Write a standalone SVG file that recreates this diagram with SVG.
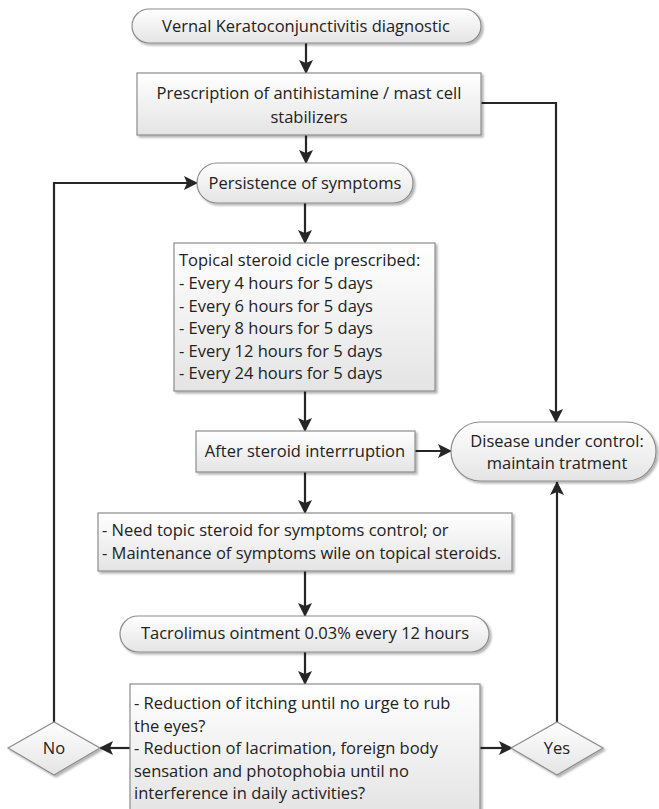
<svg xmlns="http://www.w3.org/2000/svg" width="659" height="809" viewBox="0 0 659 809">
<defs>
<linearGradient id="g" x1="0" y1="0" x2="0" y2="1">
<stop offset="0" stop-color="#ffffff"/>
<stop offset="1" stop-color="#e4e4e4"/>
</linearGradient>
<filter id="sh" x="-10%" y="-10%" width="130%" height="140%">
<feDropShadow dx="2" dy="2" stdDeviation="1.2" flood-color="#000" flood-opacity="0.3"/>
</filter>
<marker id="ah" markerUnits="userSpaceOnUse" markerWidth="14" markerHeight="14" viewBox="0 0 14 14" refX="13" refY="7" orient="auto">
<path d="M0,0 L14,7 L0,14 L3,7 Z" fill="#262626"/>
</marker>
</defs>
<style>
.n{fill:url(#g);stroke:#8c8c8c;stroke-width:1.2;filter:url(#sh)}
.t{font-family:"Open Sans","Liberation Sans",Arial,sans-serif;font-size:16.5px;fill:#222}
.c{text-anchor:middle}
.e{fill:none;stroke:#262626;stroke-width:2.2}
.a{marker-end:url(#ah)}
</style>
<rect width="659" height="809" fill="#fff"/>
<g id="connectors">
<path class="e a" d="M306,43 V73"/>
<path class="e a" d="M481,103 H556 V422"/>
<path class="e a" d="M306,135 V163"/>
<path class="e a" d="M305,203 V243"/>
<path class="e a" d="M305,391 V431"/>
<path class="e a" d="M415,451 H451"/>
<path class="e a" d="M305,472 V513"/>
<path class="e a" d="M305,571 V616"/>
<path class="e a" d="M305,652 V684"/>
<path class="e a" d="M130,748 H100"/>
<path class="e a" d="M480,748 H512"/>
<path class="e a" d="M54,722 V183 H197"/>
<path class="e a" d="M557,722 V482"/>
</g>
<g id="n1">
<rect class="n" x="132" y="9" width="349" height="34" rx="17"/>
<text class="t c" x="306" y="32">Vernal Keratoconjunctivitis diagnostic</text>
</g>
<g id="n2">
<rect class="n" x="137" y="73" width="344" height="62"/>
<text class="t c" x="309" y="99">Prescription of antihistamine / mast cell</text>
<text class="t c" x="309" y="123">stabilizers</text>
</g>
<g id="n3">
<rect class="n" x="197" y="163" width="216" height="40" rx="20"/>
<text class="t c" x="305" y="189">Persistence of symptoms</text>
</g>
<g id="n4">
<rect class="n" x="174" y="243" width="261" height="148"/>
<text class="t" x="179" y="266">Topical steroid cicle prescribed:</text>
<text class="t" x="179" y="289">- Every 4 hours for 5 days</text>
<text class="t" x="179" y="312">- Every 6 hours for 5 days</text>
<text class="t" x="179" y="334">- Every 8 hours for 5 days</text>
<text class="t" x="179" y="357">- Every 12 hours for 5 days</text>
<text class="t" x="179" y="379">- Every 24 hours for 5 days</text>
</g>
<g id="n5">
<rect class="n" x="196" y="431" width="219" height="41"/>
<text class="t c" x="305" y="457">After steroid interrruption</text>
</g>
<g id="n6">
<rect class="n" x="451" y="422" width="205" height="59" rx="29.5"/>
<text class="t c" x="557" y="447">Disease under control:</text>
<text class="t c" x="557" y="469">maintain tratment</text>
</g>
<g id="n7">
<rect class="n" x="98" y="513" width="414" height="58"/>
<text class="t" x="102" y="536">- Need topic steroid for symptoms control; or</text>
<text class="t" x="102" y="559">- Maintenance of symptoms wile on topical steroids.</text>
</g>
<g id="n8">
<rect class="n" x="120" y="616" width="369" height="36" rx="18"/>
<text class="t c" x="305" y="639">Tacrolimus ointment 0.03% every 12 hours</text>
</g>
<g id="n9">
<rect class="n" x="130" y="684" width="350" height="130"/>
<text class="t" x="134" y="709">- Reduction of itching until no urge to rub</text>
<text class="t" x="134" y="732">the eyes?</text>
<text class="t" x="134" y="754">- Reduction of lacrimation, foreign body</text>
<text class="t" x="134" y="777">sensation and photophobia until no</text>
<text class="t" x="134" y="799">interference in daily activities?</text>
</g>
<g id="n10">
<path class="n" d="M54,722 L100,748 L54,775 L8,748 Z"/>
<text class="t c" x="54" y="754">No</text>
</g>
<g id="n11">
<path class="n" d="M557,722 L603,748 L557,775 L511,748 Z"/>
<text class="t c" x="557" y="754">Yes</text>
</g>
</svg>
